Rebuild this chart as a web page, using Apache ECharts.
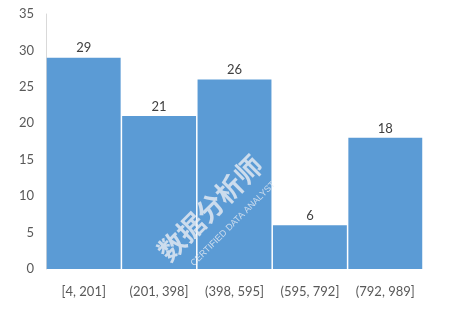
<!DOCTYPE html>
<html><head><meta charset="utf-8">
<script src="https://cdn.jsdelivr.net/npm/echarts@6/dist/echarts.min.js"></script>
<style>html,body{margin:0;padding:0;background:#fff}#c{width:451px;height:313px}</style>
</head><body><div id="c"></div>
<script>
var categories = ["[4, 201]", "(201, 398]", "(398, 595]", "(595, 792]", "(792, 989]"];
var counts = [29, 21, 26, 6, 18];
var yTicks = {min: 0, max: 35, interval: 5};

var chart = echarts.init(document.getElementById('c'));
chart.setOption({
  animation: false,
  grid: {left: 46, right: 28, top: 14, bottom: 44},
  xAxis: {
    type: 'category', data: categories,
    axisLine: {show: false}, axisTick: {show: false},
    axisLabel: {interval: 0, color: '#595959', fontFamily: 'Lato', fontSize: 13, margin: 16}
  },
  yAxis: {
    type: 'value', min: yTicks.min, max: yTicks.max, interval: yTicks.interval,
    axisLine: {show: true, lineStyle: {color: '#d9d9d9'}}, axisTick: {show: false},
    splitLine: {show: false},
    axisLabel: {color: '#595959', fontFamily: 'Lato', fontSize: 13, margin: 12}
  },
  series: [{
    type: 'bar', data: counts, barCategoryGap: '2%',
    itemStyle: {color: '#5b9bd5'},
    label: {show: true, position: 'top', distance: 3, color: '#404040', fontFamily: 'Lato', fontSize: 13}
  }],
  graphic: [
    {type: 'text', x: 210, y: 208, rotation: Math.PI/4, z: 100,
     style: {text: '数据分析师', font: 'bold 27px "Noto Sans CJK SC"', fill: 'rgba(232,236,242,0.8)', align: 'center', verticalAlign: 'middle'}},
    {type: 'text', x: 233, y: 224, rotation: Math.PI/4, z: 100,
     style: {text: 'CERTIFIED DATA ANALYST', font: '9px "Liberation Sans"', fill: 'rgba(232,236,242,0.8)', align: 'center', verticalAlign: 'middle'}}
  ]
});
</script></body></html>
